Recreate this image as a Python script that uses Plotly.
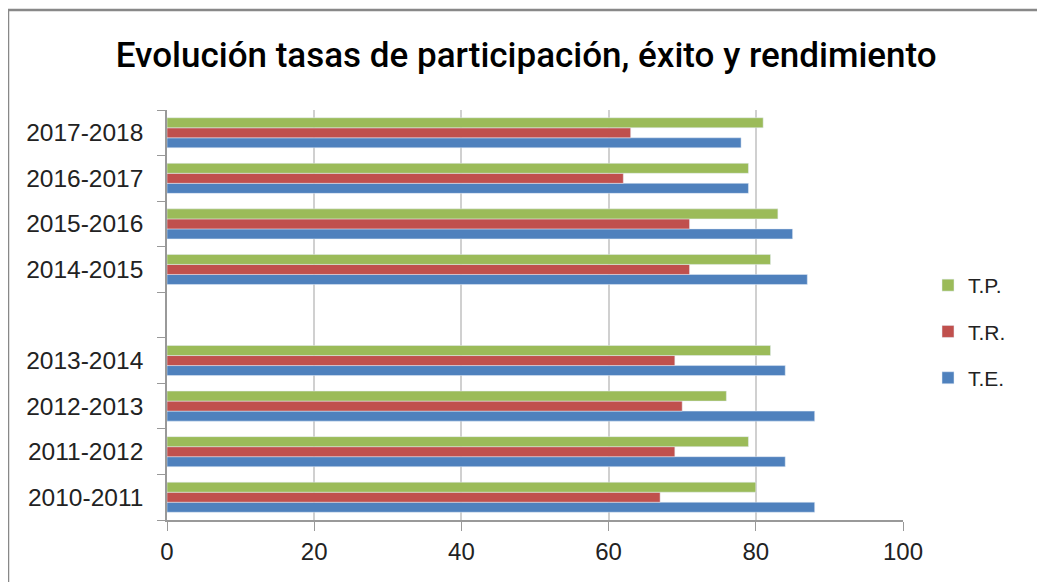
import plotly.graph_objects as go

# categories, bottom to top (blank slot between the two periods)
years = ["2010-2011", "2011-2012", "2012-2013", "2013-2014", " ",
         "2014-2015", "2015-2016", "2016-2017", "2017-2018"]

te = [88, 84, 88, 84, None, 87, 85, 79, 78]   # T.E.
tr = [67, 69, 70, 69, None, 71, 71, 62, 63]   # T.R.
tp = [80, 79, 76, 82, None, 82, 83, 79, 81]   # T.P.

x_ticks = [0, 20, 40, 60, 80, 100]

# page has an 8px body margin, so work in screen coords minus 8
OFF = 8
W, H = 1045, 582
L, T = 167 - OFF, 110 - OFF
R, B = W - (903 - OFF), H - (520 - OFF)
pw, ph = W - L - R, H - T - B


def px(x):
    return (x - OFF - L) / pw


def py(y):
    return (H - B - (y - OFF)) / ph


fig = go.Figure()
fig.add_trace(go.Bar(y=years, x=te, name="T.E.", orientation="h", marker_color="#4F81BD",
                     legendgroup="te", legendrank=3))
fig.add_trace(go.Bar(y=years, x=tr, name="T.R.", orientation="h", marker_color="#C0504D",
                     legendgroup="tr", legendrank=2))
fig.add_trace(go.Bar(y=years, x=tp, name="T.P.", orientation="h", marker_color="#9BBB59",
                     legendgroup="tp", legendrank=1))

fig.update_layout(
    width=W, height=H,
    margin=dict(l=L, r=R, t=T, b=B, pad=0),
    paper_bgcolor="white", plot_bgcolor="white",
    barmode="group", bargap=0.34, bargroupgap=0,
    showlegend=True,
    title=dict(text="Evolución tasas de participación, éxito y rendimiento",
               x=px(532), xanchor="center", y=1 - (55 - OFF) / H, yanchor="middle",
               font=dict(family="Roboto", size=35, color="#000000", weight=500)),
    legend=dict(traceorder="grouped", x=px(928), xanchor="left", y=py(265),
                yanchor="top",
                font=dict(family="Liberation Sans", size=21, color="#222222"),
                itemwidth=30, tracegroupgap=16, bgcolor="rgba(0,0,0,0)"),
    font=dict(family="Liberation Sans", size=24, color="#222222"),
)

fig.update_xaxes(range=[0, 100], tickvals=x_ticks, showgrid=True, gridcolor="#D0D0D0",
                 gridwidth=2, showline=True, linecolor="#999999", linewidth=1.5,
                 ticks="outside", ticklen=9, tickcolor="#999999", zeroline=False,
                 tickfont=dict(size=24), fixedrange=True)
fig.update_yaxes(categoryorder="array", categoryarray=years, showline=True,
                 linecolor="#999999", linewidth=1.5, ticks="outside", ticklen=8,
                 tickcolor="#999999", tickson="boundaries", showgrid=False,
                 tickfont=dict(size=24.5), ticklabelstandoff=17, fixedrange=True)

# outer chart frame
fig.add_shape(type="rect", xref="paper", yref="paper",
              x0=px(8), x1=px(1070), y0=py(620), y1=py(10),
              line=dict(color="#888888", width=2.5), fillcolor="rgba(0,0,0,0)", layer="below")

fig.write_html("out.html")
